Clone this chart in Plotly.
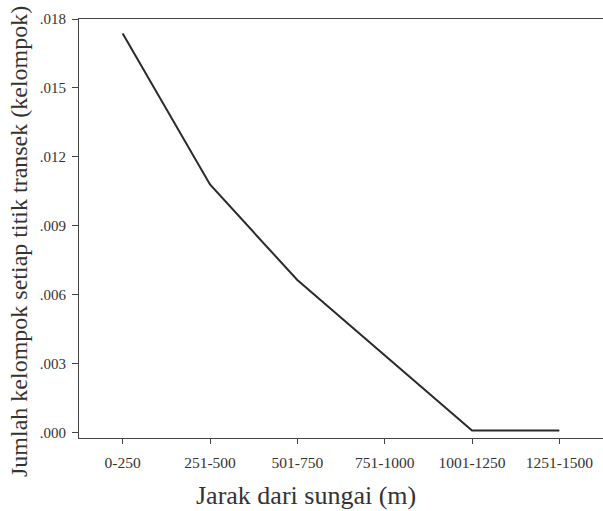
import plotly.graph_objects as go

categories = ["0-250", "251-500", "501-750", "751-1000", "1001-1250", "1251-1500"]
values = [0.01737, 0.01079, 0.00663, 0.00334, 0.00008, 0.00008]
ytick_vals = [0.0, 0.003, 0.006, 0.009, 0.012, 0.015, 0.018]
ytick_text = [".000", ".003", ".006", ".009", ".012", ".015", ".018"]
x_title = "Jarak dari sungai (m)"
y_title = "Jumlah kelompok setiap titik transek (kelompok)"

fig = go.Figure()
fig.add_trace(go.Scatter(
    x=list(range(len(categories))), y=values, mode="lines",
    line=dict(color="#2a2a2a", width=2), showlegend=False,
))

font_family = "Liberation Serif, Times New Roman, serif"
fig.update_layout(
    width=603, height=511,
    margin=dict(l=79, r=0, t=19, b=73),
    paper_bgcolor="white", plot_bgcolor="white",
    font=dict(family=font_family, color="#333333"),
    xaxis=dict(
        range=[-0.5, 5.5], tickmode="array",
        tickvals=list(range(len(categories))), ticktext=categories,
        ticks="outside", ticklen=5, tickcolor="#444", tickwidth=1,
        showline=True, linecolor="#444", linewidth=1, mirror=True,
        showgrid=False, zeroline=False, ticklabelstandoff=5,
        tickfont=dict(size=15.5, family=font_family, color="#333"),
    ),
    yaxis=dict(
        range=[-0.00025, 0.018], tickmode="array",
        tickvals=ytick_vals, ticktext=ytick_text,
        ticks="outside", ticklen=6, tickcolor="#444", tickwidth=1,
        showline=True, linecolor="#444", linewidth=1, mirror=False,
        showgrid=False, zeroline=False, ticklabelstandoff=3,
        tickfont=dict(size=15, family=font_family, color="#333"),
    ),
    annotations=[
        dict(text=x_title, xref="paper", yref="paper", x=(306 - 79) / 524, y=-(495 - 438) / 419,
             xanchor="center", yanchor="middle", showarrow=False,
             font=dict(size=26, family=font_family, color="#333")),
        dict(text=y_title, xref="paper", yref="paper", x=-(79 - 19) / 524, y=(438 - 242) / 419,
             xanchor="center", yanchor="middle", showarrow=False, textangle=-90,
             font=dict(size=24, family=font_family, color="#333")),
    ],
)

fig.write_html("out.html")
